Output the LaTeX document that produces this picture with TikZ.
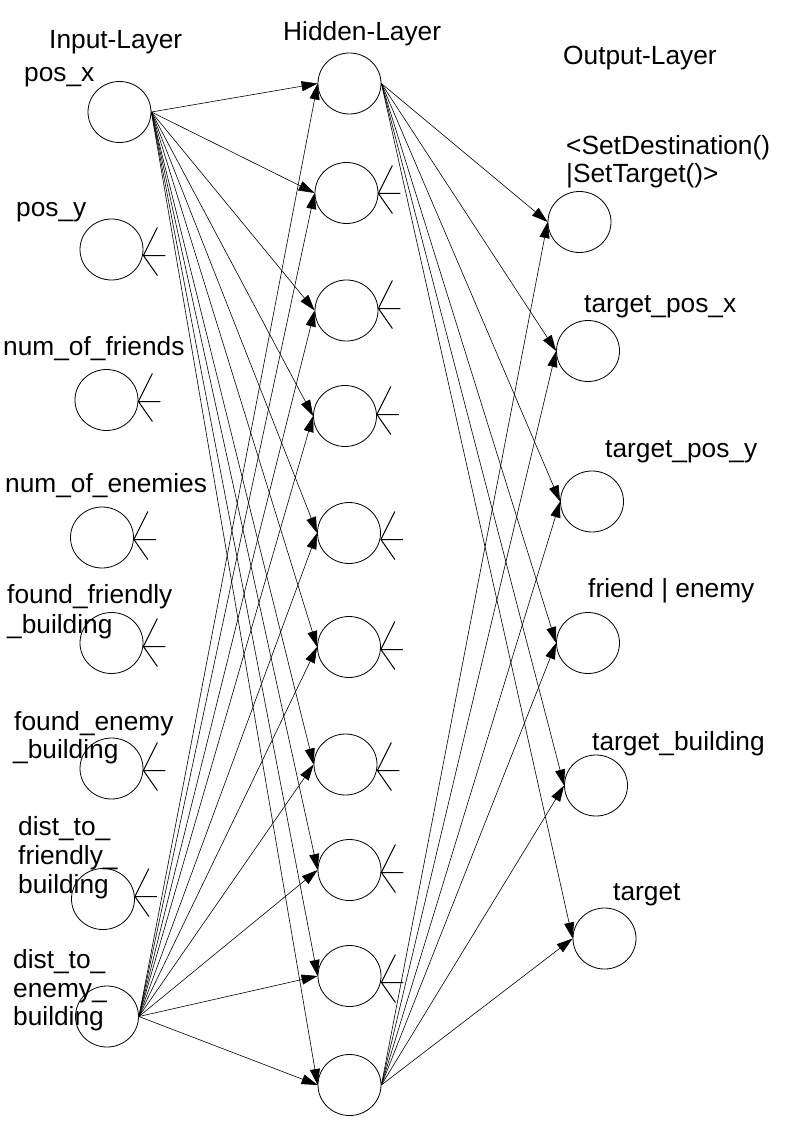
\documentclass[tikz,border=0pt]{standalone}
\usepackage{fontspec}
\setmainfont{Liberation Sans}
\usetikzlibrary{arrows.meta,shapes.geometric}
\begin{document}
\begin{tikzpicture}[x=1pt,y=-1pt,
  neuron/.style={draw, ellipse, minimum width=63pt, minimum height=61pt, inner sep=0pt, line width=0.8pt},
  lbl/.style={anchor=base west, inner sep=0pt, font=\fontsize{26.3}{29}\selectfont},
  conn/.style={line width=0.6pt, -{Triangle[length=16pt,width=10pt]}},
  stubline/.style={line width=1pt}]
\useasboundingbox (0,0) rectangle (794,1123);

% input layer
\node[neuron] (i1) at (119.5,112) {};
\node[neuron] (i2) at (111.5,249.5) {};
\node[neuron] (i3) at (106.5,400) {};
\node[neuron] (i4) at (102,537.5) {};
\node[neuron] (i5) at (111.5,643) {};
\node[neuron] (i6) at (111.5,768.5) {};
\node[neuron] (i7) at (103,899) {};
\node[neuron] (i8) at (107,1016.5) {};

% hidden layer
\node[neuron] (h1) at (349.5,83.5) {};
\node[neuron] (h2) at (346.5,193) {};
\node[neuron] (h3) at (346.5,310.5) {};
\node[neuron] (h4) at (345,416) {};
\node[neuron] (h5) at (349,533) {};
\node[neuron] (h6) at (349,647) {};
\node[neuron] (h7) at (345.5,764.5) {};
\node[neuron] (h8) at (349.5,870) {};
\node[neuron] (h9) at (349.5,976) {};
\node[neuron] (h10) at (349.5,1085) {};

% output layer
\node[neuron] (o1) at (579.5,222) {};
\node[neuron] (o2) at (588,351) {};
\node[neuron] (o3) at (592,501.5) {};
\node[neuron] (o4) at (588,643) {};
\node[neuron] (o5) at (596,785.5) {};
\node[neuron] (o6) at (604.5,938.5) {};

% layer titles
\node[lbl] (tin) at (49,49) {Input-Layer};
\node[lbl] (thid) at (283,41) {Hidden-Layer};
\node[lbl] (tout) at (563,65) {Output-Layer};

% input labels
\node[lbl] (l1) at (24,82) {pos\_x};
\node[lbl] (l2) at (16,217) {pos\_y};
\node[lbl] (l3) at (3,355) {num\_of\_friends};
\node[lbl] (l4) at (5,492) {num\_of\_enemies};
\node[lbl] (l5a) at (7,603) {found\_friendly};
\node[lbl] (l5b) at (7,633) {\_building};
\node[lbl] (l6a) at (14,730) {found\_enemy};
\node[lbl] (l6b) at (13,758) {\_building};
\node[lbl] (l7a) at (18,835) {dist\_to\_};
\node[lbl] (l7b) at (18,864) {friendly\_};
\node[lbl] (l7c) at (18,893) {building};
\node[lbl] (l8a) at (13,968) {dist\_to\_};
\node[lbl] (l8b) at (13,997) {enemy\_};
\node[lbl] (l8c) at (13,1025) {building};

% output labels
\node[lbl] (m1a) at (566,155) {<SetDestination()};
\node[lbl] (m1b) at (566,183) {|SetTarget()>};
\node[lbl] (m2) at (584,312) {target\_pos\_x};
\node[lbl] (m3) at (605,457) {target\_pos\_y};
\node[lbl] (m4) at (588,597) {friend | enemy};
\node[lbl] (m5) at (592,750) {target\_building};
\node[lbl] (m6) at (613,900) {target};

% input -> hidden connectors
\foreach \h in {h1,h2,h3,h4,h5,h6,h7,h8,h9,h10} {
  \draw[conn] (i1.east) -- (\h.west);
  \draw[conn] (i8.east) -- (\h.west);
}
% hidden -> output connectors
\foreach \o in {o1,o2,o3,o4,o5,o6} {
  \draw[conn] (h1.east) -- (\o.west);
  \draw[conn] (h10.east) -- (\o.west);
}

% elided connection stubs
\foreach \n/\d in {i2/6,i3/1.5,i4/2,i5/3.5,i6/2,i7/-2.5,h2/0.5,h3/-2,h4/-1.5,h5/6.5,h6/2.5,h7/6,h8/2.5,h9/6.5} {
  \path ([yshift=-\d pt]\n.east) coordinate (ap-\n);
  \draw[stubline] (ap-\n) -- ++(14,-28) (ap-\n) -- ++(22,0) (ap-\n) -- ++(14,20);
}
\end{tikzpicture}
\end{document}
